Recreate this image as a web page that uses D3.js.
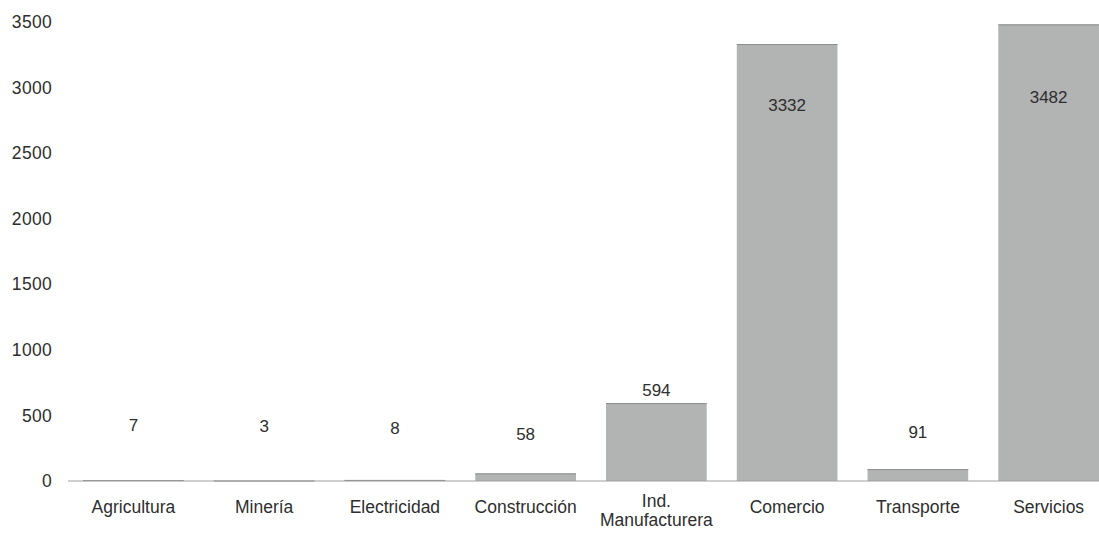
<!DOCTYPE html>
<html><head><meta charset="utf-8">
<script src="https://cdn.jsdelivr.net/npm/d3@7"></script>
<style>
body{margin:0;background:#fff;}
text{font-family:"Liberation Sans",Arial,sans-serif;fill:#2e2e2e;}
</style></head>
<body>
<svg id="c" width="1099" height="535"></svg>
<script>
const categories = ["Agricultura","Minería","Electricidad","Construcción","Ind.\nManufacturera","Comercio","Transporte","Servicios"];
const values = [7,3,8,58,594,3332,91,3482];
const yTicks = [0,500,1000,1500,2000,2500,3000,3500];
// label vertical offsets relative to bar top (layout only)
const labelDy = [-55,-55,-52,-39,-13,61,-37,73];

const svg = d3.select("#c");
const x = d3.scaleBand().domain(categories).range([68,1114]).paddingInner(0.23).paddingOuter(0.115);
const y = d3.scaleLinear().domain([0,3500]).range([481,22]);

// y tick labels
svg.append("g").selectAll("text").data(yTicks).join("text")
  .attr("x",52).attr("y",d=>y(d)).attr("dy","0.35em")
  .attr("text-anchor","end").style("font-size","17.5px").style("letter-spacing","0.3px")
  .text(d=>d);

// bars
svg.append("g").selectAll("rect").data(values).join("rect")
  .attr("x",(d,i)=>x(categories[i])).attr("width",x.bandwidth())
  .attr("y",d=>y(d)).attr("height",d=>y(0)-y(d))
  .attr("fill","#b1b4b3");
svg.append("g").selectAll("line").data(values).join("line")
  .attr("x1",(d,i)=>x(categories[i])).attr("x2",(d,i)=>x(categories[i])+x.bandwidth())
  .attr("y1",d=>y(d)+0.5).attr("y2",d=>y(d)+0.5)
  .attr("stroke","#8c8e8e").attr("stroke-width",1);

// baseline
svg.append("line").attr("x1",68).attr("x2",1099).attr("y1",y(0)).attr("y2",y(0))
  .attr("stroke","#9c9e9e").attr("stroke-width",1);

// value labels
svg.append("g").selectAll("text").data(values).join("text")
  .attr("x",(d,i)=>x(categories[i])+x.bandwidth()/2)
  .attr("y",(d,i)=>y(d)+labelDy[i]).attr("dy","0.35em")
  .attr("text-anchor","middle").style("font-size","17px")
  .text(d=>d);

// category labels
const cat = svg.append("g").selectAll("text").data(categories).join("text")
  .attr("text-anchor","middle").style("font-size","17.5px")
  .attr("transform",d=>`translate(${x(d)+x.bandwidth()/2},0)`);
cat.each(function(d){
  const lines = d.split("\n");
  const t = d3.select(this);
  const start = lines.length > 1 ? 501 : 507;
  lines.forEach((l,k)=>{
    t.append("tspan").attr("x",0).attr("y",start+k*19).attr("dy","0.35em").text(l);
  });
});
</script>
</body></html>
